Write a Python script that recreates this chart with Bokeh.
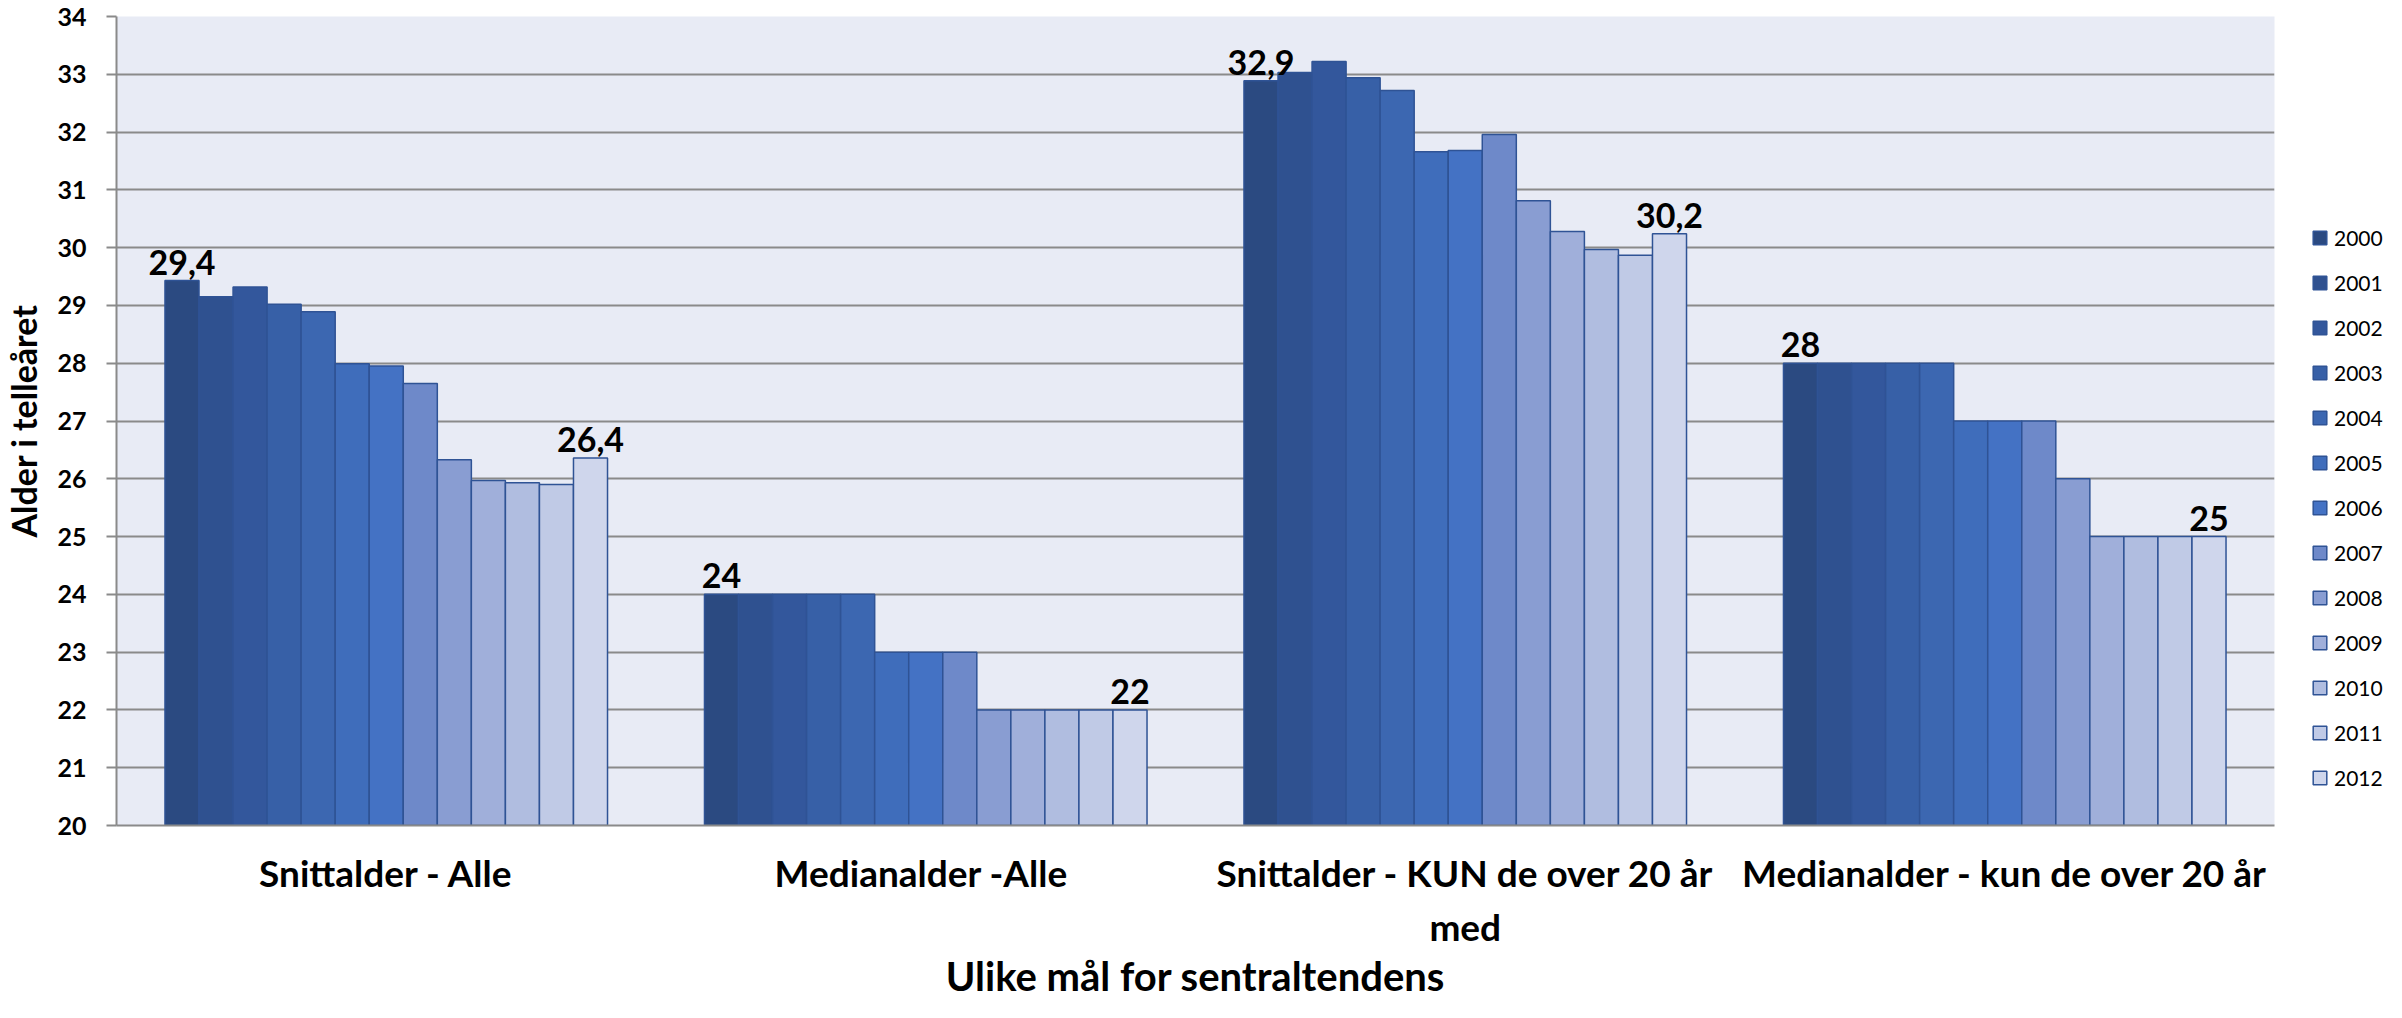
from bokeh.plotting import figure
from bokeh.layouts import row
from bokeh.models import FactorRange, Range1d, ColumnDataSource, Legend, LegendItem, FixedTicker
from bokeh.transform import dodge
from bokeh.core.properties import value
from bokeh.embed import file_html
from bokeh.resources import INLINE

# ---- data ----
categories = ["Snittalder - Alle", "Medianalder  -Alle",
              "Snittalder - KUN de over 20 år\nmed", "Medianalder - kun de over 20 år"]
years = ["2000", "2001", "2002", "2003", "2004", "2005", "2006",
         "2007", "2008", "2009", "2010", "2011", "2012"]
snitt_alle = [29.43, 29.15, 29.32, 29.02, 28.89, 27.99, 27.95, 27.65, 26.33, 25.97, 25.93, 25.90, 26.36]
median_alle = [24, 24, 24, 24, 24, 23, 23, 23, 22, 22, 22, 22, 22]
snitt_over20 = [32.89, 33.03, 33.22, 32.94, 32.72, 31.66, 31.68, 31.96, 30.81, 30.28, 29.97, 29.87, 30.24]
median_over20 = [28, 28, 28, 28, 28, 27, 27, 27, 26, 25, 25, 25, 25]
y_ticks = list(range(20, 35))

colors = ["#2B4A81", "#2F5190", "#33579C", "#3760A7", "#3C67B1", "#3F6DBB", "#4472C4",
          "#6E89C9", "#899DD2", "#A0AFDA", "#B0BDE0", "#C0CAE6", "#CFD6EC"]

series = [snitt_alle, median_alle, snitt_over20, median_over20]
data = {"cat": categories}
for i, yr in enumerate(years):
    data["y" + yr] = [s[i] for s in series]


def fmt(v):
    r = round(v, 1)
    if abs(r - round(r)) < 1e-9:
        return str(int(round(r)))
    return f"{r:.1f}".replace(".", ",")


data["first_lbl"] = [fmt(s[0]) for s in series]
data["last_lbl"] = [fmt(s[-1]) for s in series]
data["first_val"] = [s[0] for s in series]
data["last_val"] = [s[-1] for s in series]
source = ColumnDataSource(data)

FONT = "Lato"
GRID = "#8A8A8A"
EDGE = "#2F5395"
TOTAL_W, H = 2386, 1002
MAIN_W = 2275

p = figure(x_range=FactorRange(*categories, range_padding=0), y_range=Range1d(20, 34),
           width=MAIN_W, height=H, output_backend="svg", toolbar_location=None,
           min_border_left=115, min_border_right=1, min_border_top=16, min_border_bottom=161)

p.border_fill_color = "white"
p.outline_line_color = None
p.background_fill_color = "#E8EBF5"

bw = 0.0631
n = len(years)
for i, yr in enumerate(years):
    off = (i - (n - 1) / 2) * bw
    p.vbar(x=dodge("cat", off, range=p.x_range), top="y" + yr, bottom=20, width=bw,
           source=source, fill_color=colors[i], line_color=EDGE, line_width=1.5)

off0 = (0 - (n - 1) / 2) * bw
offN = ((n - 1) - (n - 1) / 2) * bw
for off, ycol, tcol in [(off0, "first_val", "first_lbl"), (offN, "last_val", "last_lbl")]:
    p.text(x=dodge("cat", off, range=p.x_range), y=ycol, text=tcol, source=source,
           text_font=value(FONT), text_font_style="bold", text_font_size="34px",
           text_align="center", text_baseline="bottom", y_offset=-6, text_color="black")

# grid
p.xgrid.grid_line_color = None
p.ygrid.grid_line_color = GRID
p.ygrid.grid_line_width = 2
p.ygrid.ticker = FixedTicker(ticks=y_ticks)

# y axis
p.yaxis.ticker = FixedTicker(ticks=y_ticks)
p.yaxis.axis_line_color = GRID
p.yaxis.axis_line_width = 2
p.yaxis.major_tick_line_color = GRID
p.yaxis.major_tick_line_width = 2
p.yaxis.major_tick_out = 10
p.yaxis.major_tick_in = 0
p.yaxis.minor_tick_line_color = None
p.yaxis.major_label_text_font = FONT
p.yaxis.major_label_text_font_style = "bold"
p.yaxis.major_label_text_font_size = "25px"
p.yaxis.major_label_text_color = "black"
p.yaxis.major_label_standoff = 20
p.yaxis.axis_label = "Alder i telleåret"
p.yaxis.axis_label_text_font = FONT
p.yaxis.axis_label_text_font_style = "bold"
p.yaxis.axis_label_text_font_size = "34px"
p.yaxis.axis_label_text_color = "black"
p.yaxis.axis_label_standoff = 10

# x axis
p.xaxis.axis_line_color = GRID
p.xaxis.axis_line_width = 2
p.xaxis.major_tick_line_color = None
p.xaxis.major_tick_out = 0
p.xaxis.major_tick_in = 0
p.xaxis.minor_tick_line_color = None
p.xaxis.major_label_text_font = FONT
p.xaxis.major_label_text_font_style = "bold"
p.xaxis.major_label_text_font_size = "37px"
p.xaxis.major_label_text_line_height = 1.2
p.xaxis.major_label_text_color = "black"
p.xaxis.major_label_standoff = 24
p.xaxis.major_label_orientation = "horizontal"
p.xaxis.axis_label = "Ulike mål for sentraltendens"
p.xaxis.axis_label_text_font = FONT
p.xaxis.axis_label_text_font_style = "bold"
p.xaxis.axis_label_text_font_size = "40px"
p.xaxis.axis_label_text_color = "black"
p.xaxis.axis_label_standoff = 0

# ---- legend panel (separate narrow figure to the right; its bars are hidden) ----
lg = figure(width=TOTAL_W - MAIN_W, height=H, output_backend="svg", toolbar_location=None,
            min_border=0, x_range=FactorRange(*categories), y_range=Range1d(20, 34))
lg.axis.visible = False
lg.grid.grid_line_color = None
lg.outline_line_color = None
lg.background_fill_color = "white"
lg.border_fill_color = "white"
lg_renderers = []
for i, yr in enumerate(years):
    r = lg.vbar(x="cat", top="y" + yr, bottom=20, width=0.1, source=source,
                fill_color=colors[i], line_color=EDGE, line_width=1.5)
    r.visible = False
    lg_renderers.append(r)
legend = Legend(items=[LegendItem(label=yr, renderers=[r], index=0)
                       for yr, r in zip(years, lg_renderers)],
                location=(36, 35), orientation="vertical", ncols=1,
                glyph_width=17, glyph_height=17, label_height=17, spacing=20,
                label_standoff=6, padding=0, margin=0,
                inactive_fill_alpha=0.0,
                border_line_color=None, background_fill_alpha=0,
                label_text_font=FONT, label_text_font_size="21px", label_text_color="black")
lg.add_layout(legend, "center")

layout = row(p, lg, spacing=0)
open("out.html", "w").write(file_html(layout, INLINE))
